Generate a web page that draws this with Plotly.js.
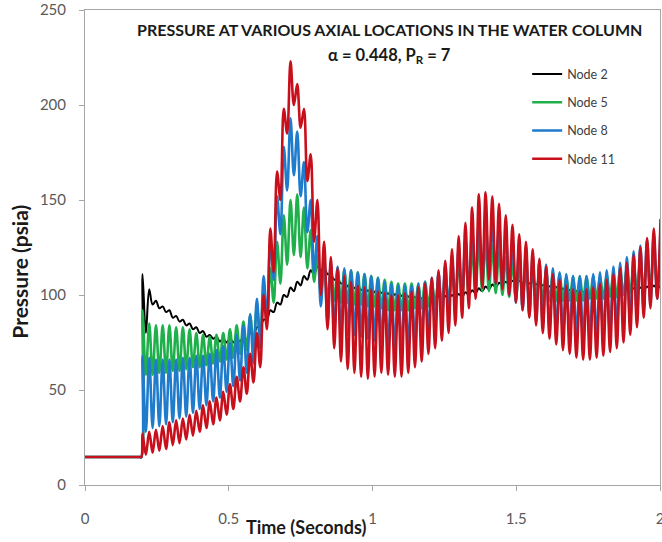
<!DOCTYPE html>
<html>
<head>
<meta charset="utf-8">
<script src="https://cdn.plot.ly/plotly-3.0.1.min.js"></script>
<style>html,body{margin:0;padding:0;background:#fff;}#chart{width:662px;height:542px;}</style>
</head>
<body>
<div id="chart"></div>
<script>
// Time (seconds)
const time = [0, 0.19, 0.196,
0.2000,0.2117,0.2234,0.2351,0.2468,0.2585,0.2702,0.2819,0.2936,0.3053,
0.3170,0.3287,0.3404,0.3521,0.3638,0.3755,0.3872,0.3989,0.4106,0.4223,
0.4340,0.4457,0.4574,0.4691,0.4808,0.4925,0.5042,0.5159,0.5276,0.5393,
0.5510,0.5627,0.5744,0.5861,0.5978,0.6095,0.6212,0.6329,0.6446,0.6563,
0.6680,0.6797,0.6914,0.7031,0.7148,0.7265,0.7382,0.7499,0.7616,0.7733,
0.7850,0.7967,0.8084,0.8201,0.8318,0.8435,0.8552,0.8669,0.8786,0.8903,
0.9020,0.9137,0.9254,0.9371,0.9488,0.9605,0.9722,0.9839,0.9956,1.0073,
1.0190,1.0307,1.0424,1.0541,1.0658,1.0775,1.0892,1.1009,1.1126,1.1243,
1.1360,1.1477,1.1594,1.1711,1.1828,1.1945,1.2062,1.2179,1.2296,1.2413,
1.2530,1.2647,1.2764,1.2881,1.2998,1.3115,1.3232,1.3349,1.3466,1.3583,
1.3700,1.3817,1.3934,1.4051,1.4168,1.4285,1.4402,1.4519,1.4636,1.4753,
1.4870,1.4987,1.5104,1.5221,1.5338,1.5455,1.5572,1.5689,1.5806,1.5923,
1.6040,1.6157,1.6274,1.6391,1.6508,1.6625,1.6742,1.6859,1.6976,1.7093,
1.7210,1.7327,1.7444,1.7561,1.7678,1.7795,1.7912,1.8029,1.8146,1.8263,
1.8380,1.8497,1.8614,1.8731,1.8848,1.8965,1.9082,1.9199,1.9316,1.9433,
1.9550,1.9667,1.9784,1.9901,2.0018];

// Pressure (psia)
const node2 = [14.7, 14.7, 14.7,
111,80,103,95,97,93,94,91,92,88,
89,86,87,84,85,82,83,80,81,78,
79,77,78,75.5,77,75,77,75,77,75.5,
78,76.5,80,79,83,83,87,87,92,91,
96,95,100,99,104,102,107,105,110,108,
113,111,115,113,114,111,111,108,109,106,
107,104.5,106,103.5,105,102.5,104,102,103.5,101.5,
103,101,102.5,100.5,102,100,101.5,99.5,101,99,
100.5,98.5,100,98,100,98,99.5,97.5,99.5,97.5,
99.5,98,100,98.5,100.5,99,101.5,100,102.5,101,
103.5,102,104.5,103,105.5,104,106.5,105,107,105.5,
107.5,106,107.5,106,107.5,106,107,105.5,106.5,105,
106,104.5,105.5,104,105,103,104,102.5,103.5,102,
103,101.5,102.5,101,102.5,101,102.5,101,102.5,101,
102.5,101.5,103,101.5,103,102,103.5,102,104,102.5,
104.5,103,105,103.5,105];

const node5 = [14.7, 14.7, 14.7,
92,58,85,58,84,59,84,59,84,60,
83,60,83,61,82,62,80,62,79,63,
78,64,79,65,80,66,82,67,84,69,
86,71,89,74,94,78,102,86,114,96,
128,106,142,116,150,121,153,120,146,114,
134,107,121,101,115,98,114,97,114,96,
113,96,113,95,112,95,111,94,110,94,
109,93,108,92,107,92,106,92,106,92,
106,93,106,93,107,94,107,95,108,96,
110,97,112,98,116,99,120,100,124,101,
127,102,128,102,126,101,123,100,120,99,
117,98,115,98,114,97,113,97,112,97,
112,97,111,97,111,97,110,97,110,97,
110,97,110,98,110,98,110,98,111,99,
112,99,113,100,114,101,116,102,118,103,
120,104,123,105,126];

const node8 = [14.7, 14.7, 14.7,
68,28,67,30,66,31,66,32,66,33,
66,35,67,36,67,38,68,40,68,42,
69,44,71,46,73,49,75,52,79,55,
84,59,90,64,98,72,110,88,128,108,
152,132,178,155,193,163,186,152,170,133,
150,112,131,94,120,85,117,81,115,80,
114,79,113,79,112,78,111,77,110,76,
109,75,107,73,106,72,105,72,105,73,
105,75,106,78,107,81,109,85,112,88,
116,92,120,96,125,99,130,102,134,105,
138,107,140,108,139,106,136,103,133,100,
129,96,126,92,123,89,121,86,118,84,
116,82,114,81,112,80,111,79,110,78,
110,77,110,77,111,77,112,78,113,80,
115,82,117,84,120,86,123,89,126,92,
129,95,132,98,135];

const node11 = [14.7, 14.7, 14.7,
27,16,28,17,29,18,31,19,33,21,
34,22,35,24,37,26,39,28,42,30,
44,32,46,34,49,37,53,40,57,44,
62,48,69,54,80,62,100,82,135,112,
165,150,198,185,223,200,211,188,198,160,
174,128,150,100,128,82,120,72,114,65,
110,61,107,59,105,57,104,56,103,57,
102,59,101,58,100,57,100,57,101,59,
102,62,104,65,106,69,109,72,113,76,
118,80,124,84,131,88,138,93,146,98,
153,104,154,108,152,106,148,103,142,100,
137,96,132,92,128,88,124,84,119,80,
115,77,111,74,108,71,105,69,103,67,
102,66,103,66,104,67,106,68,108,70,
111,72,114,75,117,79,121,83,125,88,
130,93,135,98,140];

const seriesNames = ['Node 2', 'Node 5', 'Node 8', 'Node 11'];
const xTicks = [0, 0.5, 1, 1.5, 2];
const xTickText = ['0', '0.5', '1', '1.5', '2'];
const yTicks = [0, 50, 100, 150, 200, 250];
const yTickText = ['0', '50', '100', '150', '200', '250'];

const colors = ['#000000', '#1fb04c', '#1f7bcc', '#c8101c'];
const widths = [2, 2.6, 2.6, 2.6];
const ys = [node2, node5, node8, node11];

const traces = ys.map((y, i) => ({
  x: time, y: y, type: 'scatter', mode: 'lines',
  name: seriesNames[i], legendgroup: 'g' + i,
  line: {color: colors[i], width: widths[i], shape: 'spline', smoothing: 1}
}));

const axisCommon = {
  showline: true, linecolor: '#a6a6a6', linewidth: 1, mirror: true,
  ticks: 'outside', ticklen: 5, tickcolor: '#a6a6a6', tickwidth: 1,
  showgrid: false, zeroline: false, ticklabeloverflow: 'allow',
  tickfont: {family: 'Lato, sans-serif', size: 15, color: '#595959'}
};

const layout = {
  width: 662, height: 542,
  margin: {l: 85, r: 2, t: 10, b: 57},
  paper_bgcolor: '#ffffff', plot_bgcolor: '#ffffff',
  font: {family: 'Lato, sans-serif', color: '#595959'},
  showlegend: true,
  legend: {x: 0.769, y: 0.896, xanchor: 'left', yanchor: 'top',
    font: {family: 'Lato, sans-serif', size: 12.5, color: '#404040'},
    bgcolor: 'rgba(0,0,0,0)', tracegroupgap: 9, itemwidth: 30, traceorder: 'grouped'},
  xaxis: Object.assign({}, axisCommon, {range: [0, 2], tickmode: 'array', tickvals: xTicks, ticktext: xTickText, ticklabelstandoff: 15}),
  yaxis: Object.assign({}, axisCommon, {range: [0, 250], tickmode: 'array', tickvals: yTicks, ticktext: yTickText, ticklabelstandoff: 10}),
  annotations: [
    {text: '<b>PRESSURE AT VARIOUS AXIAL LOCATIONS IN THE WATER COLUMN</b>', xref: 'paper', yref: 'paper',
     x: 0.530, y: 0.958, xanchor: 'center', yanchor: 'middle', showarrow: false,
     font: {family: 'Lato, sans-serif', size: 16, color: '#1a1a1a'}},
    {text: '<b>α = 0.448, P<sub>R</sub> = 7</b>', xref: 'paper', yref: 'paper',
     x: 0.530, y: 0.905, xanchor: 'center', yanchor: 'middle', showarrow: false,
     font: {family: 'Lato, sans-serif', size: 16.5, color: '#1a1a1a'}},
    {text: '<b>Time (Seconds)</b>', xref: 'paper', yref: 'paper',
     x: 0.384, y: -0.088, xanchor: 'center', yanchor: 'middle', showarrow: false,
     font: {family: 'Lato, sans-serif', size: 18, color: '#1a1a1a'}},
    {text: '<b>Pressure (psia)</b>', xref: 'paper', yref: 'paper', textangle: -90,
     x: -0.114, y: 0.45, xanchor: 'center', yanchor: 'middle', showarrow: false,
     font: {family: 'Lato, sans-serif', size: 21, color: '#1a1a1a'}}
  ]
};

Plotly.newPlot('chart', traces, layout, {displayModeBar: false, staticPlot: true});
</script>
</body>
</html>
